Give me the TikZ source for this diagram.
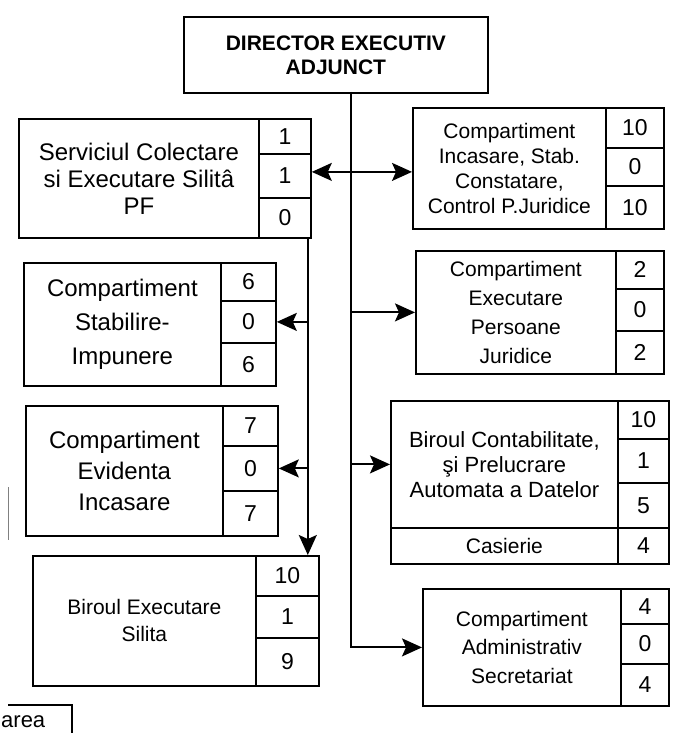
\documentclass[tikz,border=0pt]{standalone}
\usepackage{fontspec}
\setmainfont{Liberation Sans}
\usetikzlibrary{arrows.meta}
\tikzset{
  cell/.style={draw, line width=1.8pt, inner sep=0pt, anchor=north west, align=center},
  wh/.style 2 args={minimum width=#1pt, minimum height=#2pt},
  num/.style={font=\fontsize{23}{26}\selectfont},
  conn/.style={line width=1.9pt},
  toarrow/.style={arrows={-Stealth[length=20pt,width=18pt,inset=4pt]}},
  botharrow/.style={arrows={Stealth[length=20pt,width=18pt,inset=4pt]-Stealth[length=20pt,width=18pt,inset=4pt]}},
}
\begin{document}
\begin{tikzpicture}[x=1pt,y=-1pt]
\useasboundingbox (0,0) rectangle (674,733);
\fill[white] (0,0) rectangle (674,733);

% Director
\node[cell, wh={304}{76}, font=\fontsize{21}{24}\selectfont\bfseries] (dir) at (183,16) {DIRECTOR EXECUTIV\\ADJUNCT};

% Left 1
\node[cell, wh={240}{119}, font=\fontsize{24}{27}\selectfont] (L1) at (18,118) {Serviciul Colectare\\si Executare Silitâ\\PF};
\node[cell, wh={52}{35}, num] (L1a) at (258,118) {1};
\node[cell, wh={52}{44}, num] (L1b) at (258,153) {1};
\node[cell, wh={52}{40}, num] (L1c) at (258,197) {0};

% Left 2
\node[cell, wh={197}{123}, font=\fontsize{24}{34}\selectfont] (L2) at (23,262) {Compartiment\\Stabilire-\\Impunere};
\node[cell, wh={55}{38}, num] (L2a) at (220,262) {6};
\node[cell, wh={55}{42}, num] (L2b) at (220,300) {0};
\node[cell, wh={55}{43}, num] (L2c) at (220,342) {6};

% Left 3
\node[cell, wh={197}{130}, font=\fontsize{24}{31}\selectfont] (L3) at (25,405) {Compartiment\\Evidenta\\Incasare};
\node[cell, wh={55}{40}, num] (L3a) at (222,405) {7};
\node[cell, wh={55}{45}, num] (L3b) at (222,445) {0};
\node[cell, wh={55}{45}, num] (L3c) at (222,490) {7};

% Left 4
\node[cell, wh={223}{130}, font=\fontsize{21}{27}\selectfont] (L4) at (32,555) {Biroul Executare\\Silita};
\node[cell, wh={63}{40}, num] (L4a) at (255,555) {10};
\node[cell, wh={63}{42}, num] (L4b) at (255,595) {1};
\node[cell, wh={63}{48}, num] (L4c) at (255,637) {9};

% Right 1
\node[cell, wh={193}{121}, font=\fontsize{21}{25}\selectfont] (R1) at (412,107) {Compartiment\\Incasare, Stab.\\Constatare,\\Control P.Juridice};
\node[cell, wh={58}{40}, num] (R1a) at (605,107) {10};
\node[cell, wh={58}{38}, num] (R1b) at (605,147) {0};
\node[cell, wh={58}{43}, num] (R1c) at (605,185) {10};

% Right 2
\node[cell, wh={200}{123}, font=\fontsize{21}{29}\selectfont] (R2) at (415,250) {Compartiment\\Executare\\Persoane\\Juridice};
\node[cell, wh={48}{38}, num] (R2a) at (615,250) {2};
\node[cell, wh={48}{42}, num] (R2b) at (615,288) {0};
\node[cell, wh={48}{43}, num] (R2c) at (615,330) {2};

% Right 3
\node[cell, wh={227}{127}, font=\fontsize{22}{25}\selectfont] (R3) at (390,400) {Biroul Contabilitate,\\şi Prelucrare\\Automata a Datelor};
\node[cell, wh={227}{36}, font=\fontsize{21}{24}\selectfont] (R3s) at (390,527) {Casierie};
\node[cell, wh={51}{38}, num] (R3a) at (617,400) {10};
\node[cell, wh={51}{44}, num] (R3b) at (617,438) {1};
\node[cell, wh={51}{45}, num] (R3c) at (617,482) {5};
\node[cell, wh={51}{36}, num] (R3d) at (617,527) {4};

% Right 4
\node[cell, wh={198}{117}, font=\fontsize{21}{28.5}\selectfont] (R4) at (422,588) {Compartiment\\Administrativ\\Secretariat};
\node[cell, wh={48}{35}, num] (R4a) at (620,588) {4};
\node[cell, wh={48}{40}, num] (R4b) at (620,623) {0};
\node[cell, wh={48}{42}, num] (R4c) at (620,663) {4};

% Main trunk
\coordinate (ttop) at (351,92);
\draw[conn,toarrow] (ttop) -- (ttop |- R4.west) -- (R4.west);
\draw[conn,botharrow] ([yshift=4pt]L1b.east) -- ([yshift=4pt]L1b.east -| R1.west);
\draw[conn,toarrow] (ttop |- R2.west) -- (R2.west);
\draw[conn,toarrow] (ttop |- R3.west) -- (R3.west);

% Left trunk
\coordinate (ltop) at ([xshift=-4pt]L1c.south east);
\draw[conn,toarrow] (ltop) -- (ltop |- L4a.north);
\draw[conn,toarrow] (ltop |- L2b.east) -- (L2b.east);
\draw[conn,toarrow] (ltop |- L3b.east) -- (L3b.east);

% fragments at the edge
\draw[line width=1.3pt] (8,705) -- (72,705) -- (72,733);
\node[anchor=base west, inner sep=0pt, font=\fontsize{22}{24}\selectfont] (areatxt) at (1,727) {area};
\draw[line width=0.8pt, gray] (8,487) -- (8,540);
\end{tikzpicture}
\end{document}
